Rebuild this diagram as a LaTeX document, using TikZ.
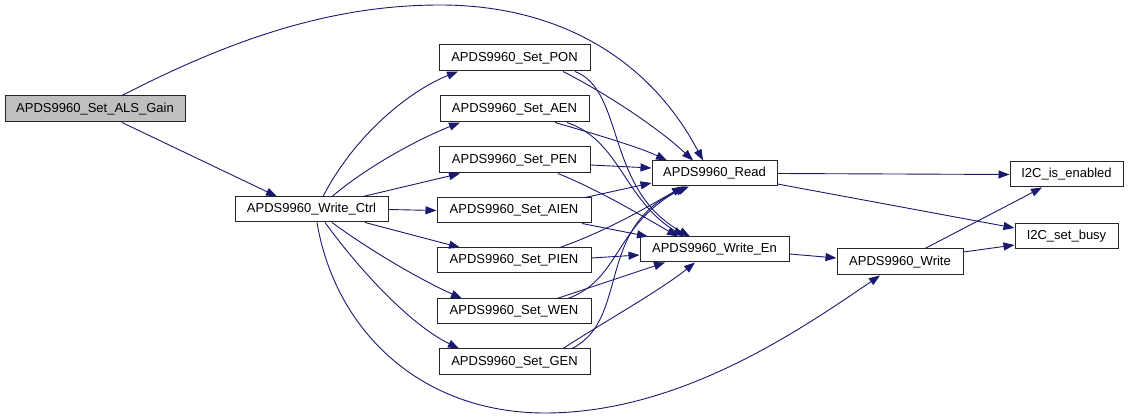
\documentclass[tikz,border=0pt]{standalone}
\usepackage{fontspec}
\setmainfont{Liberation Sans}
\usetikzlibrary{arrows.meta,calc}

\definecolor{edgeblue}{RGB}{25,25,112}
\definecolor{rootgray}{RGB}{191,191,191}

\begin{document}
\begin{tikzpicture}[x=1pt,y=-1pt,
    fn/.style={draw=black!85,line width=1pt,fill=white,inner sep=0pt,
               minimum height=25pt,font=\fontsize{13}{15}\selectfont},
    call/.style={draw=edgeblue,line width=0.9pt,
                 -{Triangle[length=11pt,width=8pt]}}]
  \useasboundingbox (0,0) rectangle (1128,419);

  \node[fn,fill=rootgray,minimum width=180pt,minimum height=26pt] (als_gain) at (95,109)     {APDS9960\_Set\_ALS\_Gain};
  \node[fn,minimum width=153pt] (write_ctrl) at (311.5,209.5) {APDS9960\_Write\_Ctrl};
  \node[fn,minimum width=151pt,minimum height=26pt] (set_pon)  at (514.5,58)  {APDS9960\_Set\_PON};
  \node[fn,minimum width=149pt,minimum height=26pt] (set_aen)  at (514.5,109) {APDS9960\_Set\_AEN};
  \node[fn,minimum width=151pt,minimum height=26pt] (set_pen)  at (514.5,160) {APDS9960\_Set\_PEN};
  \node[fn,minimum width=154pt] (set_aien) at (514,210.5) {APDS9960\_Set\_AIEN};
  \node[fn,minimum width=154pt] (set_pien) at (514,260.5) {APDS9960\_Set\_PIEN};
  \node[fn,minimum width=154pt] (set_wen)  at (514,311.5) {APDS9960\_Set\_WEN};
  \node[fn,minimum width=151pt,minimum height=26pt] (set_gen)  at (514.5,362) {APDS9960\_Set\_GEN};
  \node[fn,minimum width=125pt] (read)     at (714.5,173.5) {APDS9960\_Read};
  \node[fn,minimum width=149pt] (write_en) at (714.5,249.5) {APDS9960\_Write\_En};
  \node[fn,minimum width=126pt,minimum height=26pt] (write)    at (900,262)    {APDS9960\_Write};
  \node[fn,minimum width=113pt] (i2c_en)   at (1066.5,174.5) {I2C\_is\_enabled};
  \node[fn,minimum width=103pt] (i2c_busy) at (1066.5,236.5) {I2C\_set\_busy};

  % calls of the root function
  \draw[call] ($(als_gain.south)+(27,0)$) -- ($(write_ctrl.north)+(-34.5,0)$);
  \draw[call] ($(als_gain.north)+(27,0)$) .. controls (230,40) and (330,5) .. (440,5)
              .. controls (560,5) and (650,60) .. ($(read.north)+(-11.5,0)$);

  % calls of the write control
  \draw[call] ($(write_ctrl.north)+(11.5,0)$) .. controls +(32,-62) and +(-48,19) .. ($(set_pon.south)+(-56.5,0)$);
  \draw[call] ($(write_ctrl.north)+(20.5,0)$) .. controls +(38,-32) and +(-40,16) .. ($(set_aen.south)+(-54.5,0)$);
  \draw[call] ($(write_ctrl.north)+(51.5,0)$) -- ($(set_pen.south)+(-54.5,0)$);
  \draw[call] (write_ctrl.east) -- (set_aien.west);
  \draw[call] ($(write_ctrl.south)+(53.5,0)$) -- ($(set_pien.north)+(-54,0)$);
  \draw[call] ($(write_ctrl.south)+(20.5,0)$) .. controls +(38,28) and +(-42,-19) .. ($(set_wen.north)+(-52,0)$);
  \draw[call] ($(write_ctrl.south)+(13.5,0)$) .. controls +(35,48) and +(-49,-24) .. ($(set_gen.north)+(-55.5,0)$);
  \draw[call] ($(write_ctrl.south)+(5.5,0)$) .. controls (335,330) and (420,413) .. (545,413)
              .. controls (680,413) and (800,330) .. ($(write.south)+(-20,0)$);

  % calls of the setters
  \draw[call] ($(set_pon.south)+(48.5,0)$) .. controls +(47,24) and +(-33,-31) .. ($(read.north)+(-21.5,0)$);
  \draw[call] ($(set_pon.south)+(60.5,0)$) .. controls +(50,19) and +(-85,-47) .. ($(write_en.north)+(-24.5,0)$);
  \draw[call] ($(set_aen.south)+(40.5,0)$) .. controls +(45,13) and +(-27,-13) .. ($(read.north)+(-47.5,0)$);
  \draw[call] ($(set_aen.south)+(52.5,0)$) .. controls +(53,18) and +(-60,-37) .. ($(write_en.north)+(-30.5,0)$);
  \draw[call] ($(set_pen.east)+(0,5)$) -- ($(read.west)+(0,-5.5)$);
  \draw[call] ($(set_pen.south)+(43.5,0)$) .. controls +(42,17) and +(-35,-20) .. ($(write_en.north)+(-36.5,0)$);
  \draw[call] ($(set_aien.north)+(71,0)$) -- ($(read.west)+(0,9.5)$);
  \draw[call] ($(set_aien.south)+(68,0)$) -- ($(write_en.north)+(-66.5,0)$);
  \draw[call] ($(set_pien.north)+(46,0)$) .. controls +(50,-18) and +(-33,19) .. ($(read.south)+(-31.5,0)$);
  \draw[call] ($(set_pien.east)+(0,-2.5)$) -- ($(write_en.west)+(0,5.5)$);
  \draw[call] ($(set_wen.north)+(43,0)$) -- ($(write_en.south)+(-49.5,0)$);
  \draw[call] ($(set_wen.north)+(54,0)$) .. controls +(52,-19) and +(-71,39) .. ($(read.south)+(-28.5,0)$);
  \draw[call] ($(set_gen.north)+(48.5,0)$) .. controls +(45,-29) and +(-35,28) .. ($(write_en.south)+(-19.5,0)$);
  \draw[call] ($(set_gen.north)+(57.5,0)$) .. controls +(58,-29) and +(-94,39) .. ($(read.south)+(-25.5,0)$);

  % calls of read and write
  \draw[call] (read.east) -- (i2c_en.west);
  \draw[call] ($(read.east)+(0,10.5)$) -- ($(i2c_busy.west)+(0,-8.5)$);
  \draw[call] ($(write_en.east)+(0,4.5)$) -- ($(write.west)+(0,-4)$);
  \draw[call] ($(write.north)+(25,0)$) -- ($(i2c_en.south)+(-24.5,0)$);
  \draw[call] ($(write.east)+(0,-10)$) -- ($(i2c_busy.west)+(0,8.5)$);
\end{tikzpicture}
\end{document}
